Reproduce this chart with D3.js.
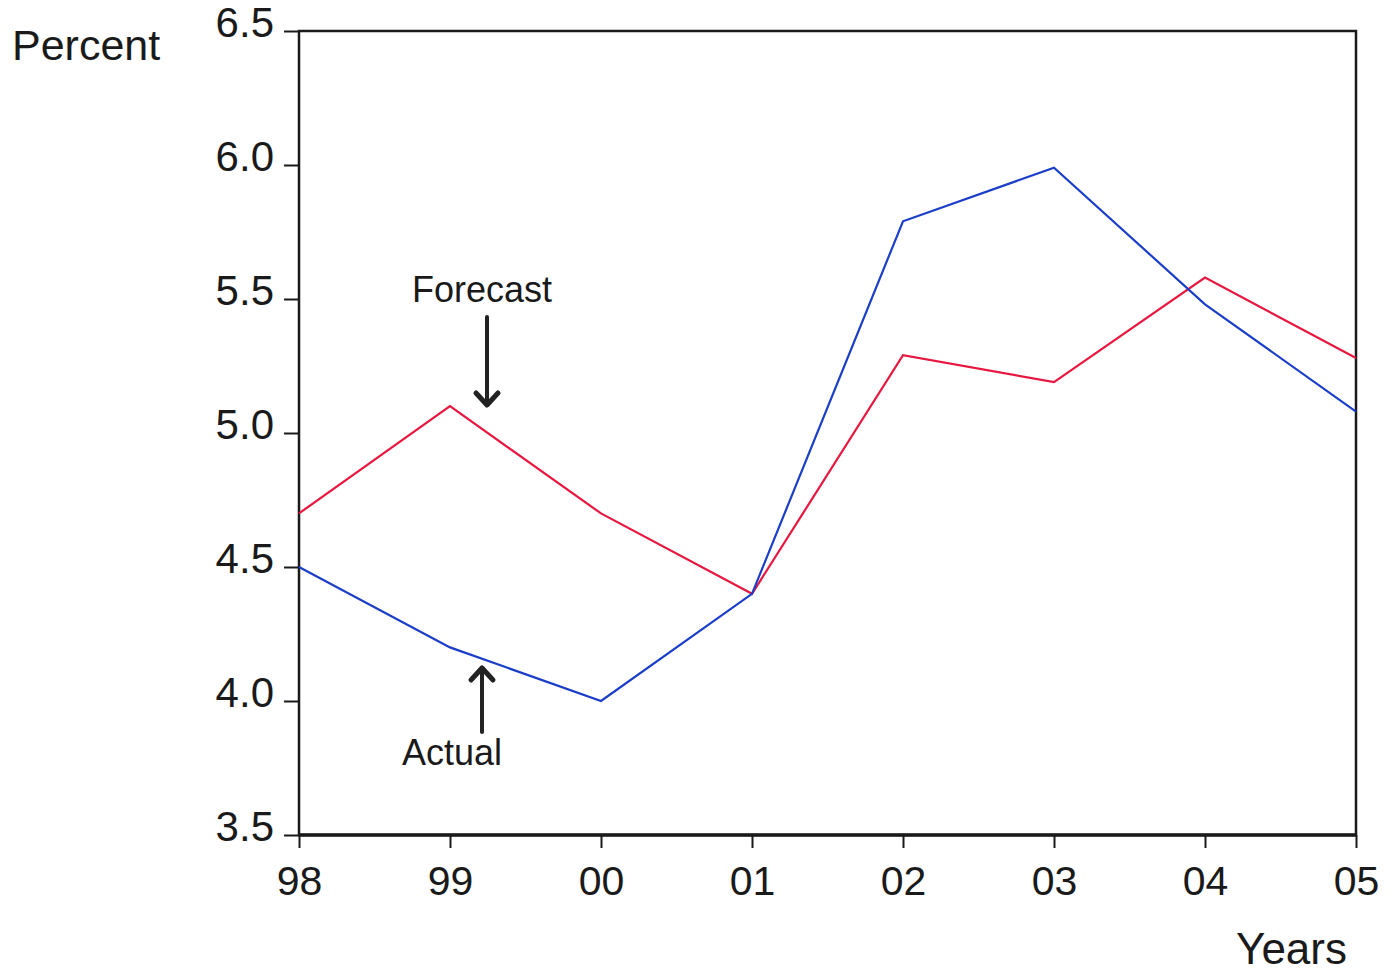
<!DOCTYPE html>
<html><head><meta charset="utf-8">
<script src="https://cdn.jsdelivr.net/npm/d3@7"></script>
<style>body{margin:0;background:#fff}svg{display:block}</style>
</head><body>
<script>
const years = ["98","99","00","01","02","03","04","05"];
const forecast = [4.70, 5.10, 4.70, 4.40, 5.29, 5.19, 5.58, 5.28];
const actual = [4.50, 4.20, 4.00, 4.40, 5.79, 5.99, 5.48, 5.08];
const yTicks = [3.5, 4.0, 4.5, 5.0, 5.5, 6.0, 6.5];

const W = 1399, H = 978;
const m = {left: 299, right: 1356, top: 31, bottom: 835};
const FONT = "'Liberation Sans', Arial, sans-serif";
const svg = d3.select("body").append("svg").attr("width", W).attr("height", H)
  .style("font-family", FONT);

const x = d3.scalePoint().domain(years).range([m.left, m.right]);
const y = d3.scaleLinear().domain([3.5, 6.5]).range([m.bottom, m.top]);

// frame
svg.append("rect").attr("x", m.left).attr("y", m.top)
  .attr("width", m.right - m.left).attr("height", m.bottom - m.top)
  .attr("fill", "none").attr("stroke", "#1a1a1a").attr("stroke-width", 2.5);
svg.append("line").attr("x1", m.left).attr("x2", m.right).attr("y1", m.bottom).attr("y2", m.bottom)
  .attr("stroke", "#1a1a1a").attr("stroke-width", 3.5);

// y axis
const ya = svg.append("g").attr("transform", `translate(${m.left},0)`)
  .call(d3.axisLeft(y).tickValues(yTicks).tickFormat(d3.format(".1f")).tickSize(15).tickPadding(10));
ya.select(".domain").remove();
ya.selectAll("line").attr("stroke", "#1a1a1a").attr("stroke-width", 2);
ya.selectAll("text").attr("font-size", 42).attr("fill", "#1a1a1a").attr("font-family", FONT)
  .attr("dy", "0.12em");

// x axis
const xa = svg.append("g").attr("transform", `translate(0,${m.bottom})`)
  .call(d3.axisBottom(x).tickSize(13).tickPadding(18));
xa.select(".domain").remove();
xa.selectAll("line").attr("stroke", "#1a1a1a").attr("stroke-width", 2);
xa.selectAll("text").attr("font-size", 41).attr("fill", "#1a1a1a").attr("font-family", FONT);

const line = d3.line().x((d, i) => x(years[i])).y(d => y(d));
svg.append("path").datum(forecast).attr("d", line).attr("fill", "none")
  .attr("stroke", "#e8173f").attr("stroke-width", 2.2);
svg.append("path").datum(actual).attr("d", line).attr("fill", "none")
  .attr("stroke", "#1b3ec9").attr("stroke-width", 2.2);

// titles
svg.append("text").attr("x", 12).attr("y", 60).attr("font-size", 43).attr("fill", "#1a1a1a").text("Percent");
svg.append("text").attr("x", 1347).attr("y", 964).attr("text-anchor", "end").attr("font-size", 44).attr("fill", "#1a1a1a").text("Years");

// annotations
svg.append("text").attr("x", 482).attr("y", 302).attr("text-anchor", "middle").attr("font-size", 36).attr("fill", "#1a1a1a").text("Forecast");
svg.append("text").attr("x", 452).attr("y", 765).attr("text-anchor", "middle").attr("font-size", 36).attr("fill", "#1a1a1a").text("Actual");

const arrow = (x0, y0, x1, y1) => {
  svg.append("line").attr("x1", x0).attr("y1", y0).attr("x2", x1).attr("y2", y1)
    .attr("stroke", "#222").attr("stroke-width", 4).attr("stroke-linecap", "round");
  const dir = Math.sign(y1 - y0);
  svg.append("path").attr("d", `M${x1-11},${y1-12*dir} L${x1},${y1} L${x1+11},${y1-12*dir}`)
    .attr("fill", "none").attr("stroke", "#222").attr("stroke-width", 5)
    .attr("stroke-linecap", "round").attr("stroke-linejoin", "round");
};
arrow(487, 317, 487, 405);
arrow(482, 732, 482, 668);
</script>
</body></html>
